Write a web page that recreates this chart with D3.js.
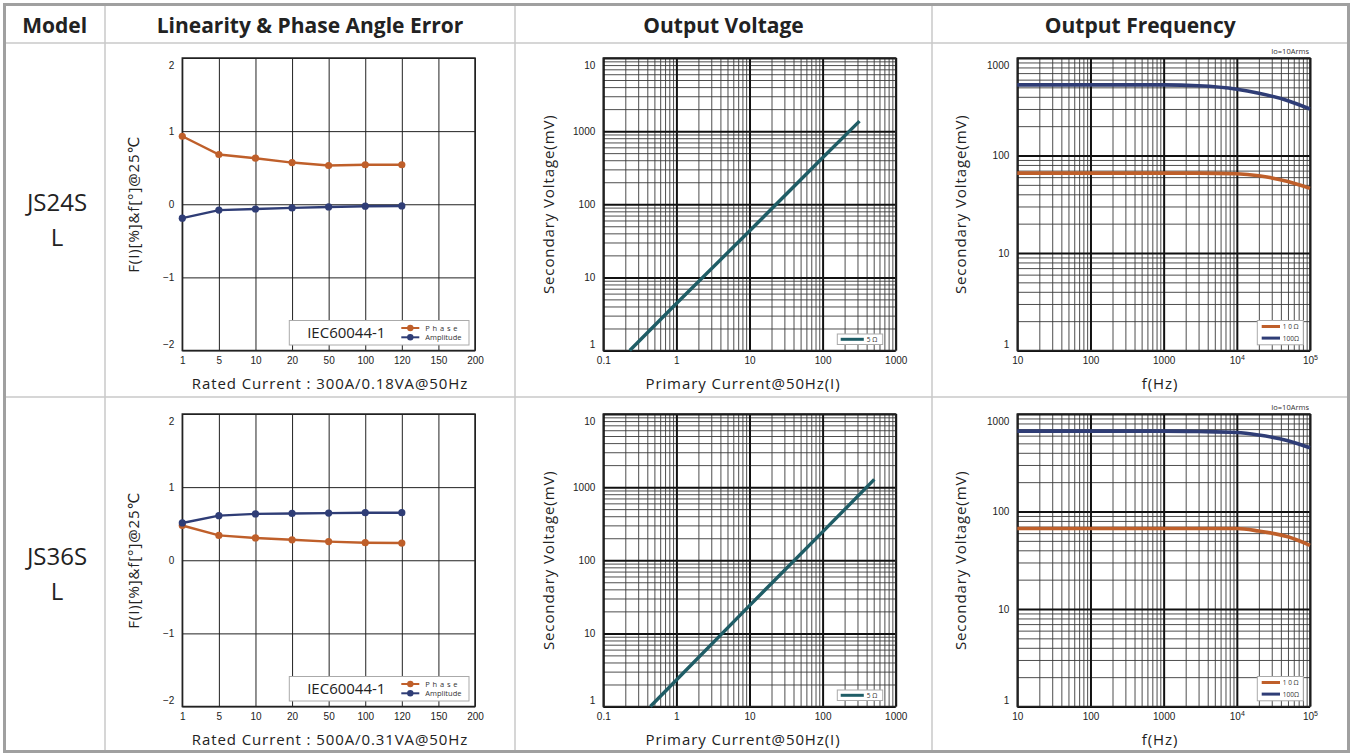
<!DOCTYPE html>
<html>
<head>
<meta charset="utf-8">
<title>CT characteristic table</title>
<script src="https://d3js.org/d3.v7.min.js"></script>
<style>
    body { margin:0; background:#fff; }
    svg { display:block; font-family:"Open Sans", "DejaVu Sans", sans-serif; }
    .grid path { display:none; }
    .labels path { display:none; }
    .labels text { font-size:10px; fill:#222; }
    .axis-title { font-size:15px; fill:#222; letter-spacing:0.9px; }
    .head { font-size:21px; font-weight:bold; fill:#222; }
    .model { font-size:24px; fill:#222; }
</style>
</head>
<body>
<svg id="chart" width="1354" height="754"></svg>
<script>

// ---- data ----
const headers = ["Model", "Linearity & Phase Angle Error", "Output Voltage", "Output Frequency"];
const models = [["JS24S", "L"], ["JS36S", "L"]];
const ratedTitles = ["Rated Current : 300A/0.18VA@50Hz", "Rated Current : 500A/0.31VA@50Hz"];

// linearity & phase angle error
const linCategories = ["1", "5", "10", "20", "50", "100", "120", "150", "200"];
const linTicks = [-2, -1, 0, 1, 2];
const phaseJS24 = [0.93, 0.68, 0.63, 0.57, 0.53, 0.54, 0.54];
const ampJS24 = [-0.19, -0.08, -0.065, -0.05, -0.037, -0.027, -0.023];
const phaseJS36 = [0.475, 0.34, 0.305, 0.28, 0.255, 0.24, 0.235];
const ampJS36 = [0.51, 0.61, 0.634, 0.64, 0.645, 0.65, 0.65];

// output voltage (5 ohm burden)
const currentJS24 = [0.23, 1, 10, 100, 320];
const voltJS24 = [1, 4.4, 43, 432, 1370];
const currentJS36 = [0.44, 1, 10, 100, 510];
const voltJS36 = [1, 2.3, 24, 244, 1275];
const voltXTicks = [0.1, 1, 10, 100, 1000];
const voltXLabels = ["0.1", "1", "10", "100", "1000"];
const voltYTicks = [1, 10, 100, 1000, 10000];
const voltYLabels = ["1", "10", "100", "1000", "10"];

// output frequency (Io = 10Arms)
const freqs = [10, 100, 1000, 3000, 10000, 20000, 50000, 100000];
const f10JS24 = [66, 66, 66, 66, 65, 62, 54, 46];
const f100JS24 = [530, 530, 530, 520, 479, 435, 365, 300];
const f10JS36 = [67, 67, 67, 67, 67, 63, 55, 45];
const f100JS36 = [668, 668, 668, 662, 647, 608, 531, 450];
const freqXTicks = [10, 100, 1000, 10000, 100000];
const freqXLabels = [["10"], ["100"], ["1000"], ["10", "4"], ["10", "5"]];
const freqYTicks = [1, 10, 100, 1000];

const ORANGE = "#bf5f2a", NAVY = "#2f3d76", TEAL = "#1f5d66";

// ---- layout ----
const svg = d3.select("#chart");
const colX = [4.5, 105, 515, 932, 1348.5];
const rowY = [4.5, 43, 397, 751.5];
const plotTops = [58, 414];
const plotH = 292.5;
const linX = [182.3, 475], voltX = [603.3, 895.7], freqX = [1017.3, 1310];

// table lines
const table = svg.append("g");
[rowY[1], rowY[2]].forEach(y => table.append("line")
    .attr("x1", colX[0]).attr("x2", colX[4]).attr("y1", y).attr("y2", y)
    .attr("stroke", "#c8c8c8").attr("stroke-width", 1.5));
[colX[1], colX[2], colX[3]].forEach(x => table.append("line")
    .attr("x1", x).attr("x2", x).attr("y1", rowY[0]).attr("y2", rowY[3])
    .attr("stroke", "#c8c8c8").attr("stroke-width", 1.5));
table.append("rect")
    .attr("x", colX[0]).attr("y", rowY[0])
    .attr("width", colX[4] - colX[0]).attr("height", rowY[3] - rowY[0])
    .attr("fill", "none").attr("stroke", "#a0a0a0").attr("stroke-width", 3);

headers.forEach((h, i) => {
    table.append("text").attr("class", "head")
        .attr("x", (colX[i] + colX[i + 1]) / 2).attr("y", 33)
        .attr("text-anchor", "middle").text(h);
});

models.forEach((m, r) => {
    const cy = (rowY[r + 1] + rowY[r + 2]) / 2;
    m.forEach((line, k) => {
        table.append("text").attr("class", "model")
            .attr("x", 57).attr("y", cy + 8 + (k - 0.5) * 35)
            .attr("text-anchor", "middle").text(line);
    });
});

function isDecade(v) {
    const l = Math.log10(v);
    return Math.abs(l - Math.round(l)) < 1e-9;
}

// shift the first / last y labels inward like the original
function nudgeEnds(sel) {
    const t = sel.selectAll(".tick text");
    const n = t.size();
    t.each(function(d, i) {
        if (i === 0) d3.select(this).attr("dy", "-0.35em");
        if (i === n - 1) d3.select(this).attr("dy", "1.0em");
    });
}

function frame(g, xr, top) {
    g.append("rect").attr("x", xr[0]).attr("y", top)
        .attr("width", xr[1] - xr[0]).attr("height", plotH)
        .attr("fill", "none").attr("stroke", "#222").attr("stroke-width", 1.5);
}

function xTitle(g, text, cx, bottom) {
    g.append("text").attr("class", "axis-title")
        .attr("x", cx).attr("y", bottom + 38)
        .attr("text-anchor", "middle").text(text);
}

function yTitle(g, text, x, cy) {
    g.append("text").attr("class", "axis-title")
        .attr("transform", `translate(${x},${cy}) rotate(-90)`)
        .attr("text-anchor", "middle").text(text);
}

// ---- linearity chart ----
function drawLinearity(row, phase, amp) {
    const top = plotTops[row], bottom = top + plotH;
    const g = svg.append("g");
    const x = d3.scalePoint().domain(linCategories).range(linX);
    const y = d3.scaleLinear().domain([-2, 2]).range([bottom, top]);
    const w = linX[1] - linX[0];

    g.append("g").attr("class", "grid").attr("transform", `translate(0,${bottom})`)
        .call(d3.axisBottom(x).tickSize(-plotH).tickFormat(""))
        .selectAll("line").attr("stroke", "#222").attr("stroke-width", 1);
    g.append("g").attr("class", "grid").attr("transform", `translate(${linX[0]},0)`)
        .call(d3.axisLeft(y).tickValues(linTicks).tickSize(-w).tickFormat(""))
        .selectAll("line").attr("stroke", "#222").attr("stroke-width", 1);
    frame(g, linX, top);

    g.append("g").attr("class", "labels").attr("transform", `translate(0,${bottom})`)
        .call(d3.axisBottom(x).tickSize(0).tickPadding(6))
        .selectAll("line").remove();
    const yl = g.append("g").attr("class", "labels").attr("transform", `translate(${linX[0]},0)`)
        .call(d3.axisLeft(y).tickValues(linTicks).tickSize(0).tickPadding(8)
            .tickFormat(d3.format("d")));
    nudgeEnds(yl);

    const series = [{ v: phase, c: ORANGE }, { v: amp, c: NAVY }];
    series.forEach(s => {
        const pts = s.v.map((v, i) => [linCategories[i], v]);
        g.append("path").datum(pts)
            .attr("d", d3.line().x(d => x(d[0])).y(d => y(d[1])))
            .attr("fill", "none").attr("stroke", s.c).attr("stroke-width", 2.4);
        g.selectAll(null).data(pts).join("circle")
            .attr("cx", d => x(d[0])).attr("cy", d => y(d[1]))
            .attr("r", 3.6).attr("fill", s.c);
    });

    // legend
    const lg = g.append("g").attr("transform", `translate(289.3,${bottom - 30})`);
    lg.append("rect").attr("width", 179.7).attr("height", 24.5)
        .attr("fill", "#fff").attr("stroke", "#aaa").attr("stroke-width", 1);
    lg.append("text").attr("x", 57).attr("y", 17.5).attr("text-anchor", "middle")
        .style("font-size", "15px").attr("fill", "#222").text("IEC60044-1");
    [["Phase", ORANGE, "2.8px"], ["Amplitude", NAVY, "0px"]].forEach((e, i) => {
        const ly = 7.5 + i * 9.3;
        lg.append("line").attr("x1", 112).attr("x2", 130).attr("y1", ly).attr("y2", ly)
            .attr("stroke", e[1]).attr("stroke-width", 2);
        lg.append("circle").attr("cx", 121).attr("cy", ly).attr("r", 3.2).attr("fill", e[1]);
        lg.append("text").attr("x", 136).attr("y", ly + 2.6)
            .style("font-size", "7.5px").style("letter-spacing", e[2])
            .attr("fill", "#333").text(e[0]);
    });

    xTitle(g, ratedTitles[row], 330, bottom);
    yTitle(g, "F(I)[%]&f[°]@25℃", 139, (top + bottom) / 2);
}

// ---- log-log grid helper ----
function logGrid(g, x, y, xr, top, bottom) {
    const w = xr[1] - xr[0];
    const xt = x.ticks(), yt = y.ticks();
    [false, true].forEach(major => {
        g.append("g").attr("class", "grid").attr("transform", `translate(0,${bottom})`)
            .call(d3.axisBottom(x).tickValues(xt.filter(v => isDecade(v) === major))
                .tickSize(-plotH).tickFormat(""))
            .selectAll("line").attr("stroke", major ? "#111" : "#3a3a3a")
            .attr("stroke-width", major ? 2 : 0.9);
        g.append("g").attr("class", "grid").attr("transform", `translate(${xr[0]},0)`)
            .call(d3.axisLeft(y).tickValues(yt.filter(v => isDecade(v) === major))
                .tickSize(-w).tickFormat(""))
            .selectAll("line").attr("stroke", major ? "#111" : "#3a3a3a")
            .attr("stroke-width", major ? 2 : 0.9);
    });
    frame(g, xr, top);
}

// ---- output voltage chart ----
function drawVoltage(row, current, volt) {
    const top = plotTops[row], bottom = top + plotH;
    const g = svg.append("g");
    const x = d3.scaleLog().domain([0.1, 1000]).range(voltX);
    const y = d3.scaleLog().domain([1, 10000]).range([bottom, top]);
    logGrid(g, x, y, voltX, top, bottom);

    g.append("g").attr("class", "labels").attr("transform", `translate(0,${bottom})`)
        .call(d3.axisBottom(x).tickValues(voltXTicks).tickSize(0).tickPadding(6)
            .tickFormat((d, i) => voltXLabels[i]));
    const yl = g.append("g").attr("class", "labels").attr("transform", `translate(${voltX[0]},0)`)
        .call(d3.axisLeft(y).tickValues(voltYTicks).tickSize(0).tickPadding(8)
            .tickFormat((d, i) => voltYLabels[i]));
    nudgeEnds(yl);

    const pts = current.map((c, i) => [c, volt[i]]);
    g.append("path").datum(pts)
        .attr("d", d3.line().x(d => x(d[0])).y(d => y(d[1])))
        .attr("fill", "none").attr("stroke", TEAL).attr("stroke-width", 3.4);

    const lg = g.append("g").attr("transform", `translate(837.3,${bottom - 16.5})`);
    lg.append("rect").attr("width", 45.4).attr("height", 10.5)
        .attr("fill", "#fff").attr("stroke", "#aaa").attr("stroke-width", 1);
    lg.append("line").attr("x1", 3.4).attr("x2", 26.5).attr("y1", 5.3).attr("y2", 5.3)
        .attr("stroke", TEAL).attr("stroke-width", 3);
    lg.append("text").attr("x", 29.5).attr("y", 7.8)
        .style("font-size", "6.5px").attr("fill", "#333").text("5 Ω");

    xTitle(g, "Primary Current@50Hz(I)", 743, bottom);
    yTitle(g, "Secondary Voltage(mV)", 554, (top + bottom) / 2);
}

// ---- output frequency chart ----
function drawFreq(row, f10, f100) {
    const top = plotTops[row], bottom = top + plotH;
    const g = svg.append("g");
    const x = d3.scaleLog().domain([10, 100000]).range(freqX);
    const y = d3.scaleLog().domain([1, 1000]).range([bottom, top]);
    logGrid(g, x, y, freqX, top, bottom);

    const xl = g.append("g").attr("class", "labels").attr("transform", `translate(0,${bottom})`)
        .call(d3.axisBottom(x).tickValues(freqXTicks).tickSize(0).tickPadding(6).tickFormat(""));
    xl.selectAll(".tick text").each(function(d, i) {
        const t = d3.select(this);
        const parts = freqXLabels[i];
        t.append("tspan").text(parts[0]);
        if (parts[1]) t.append("tspan").attr("dy", "-0.45em").style("font-size", "7px").text(parts[1]);
    });
    const yl = g.append("g").attr("class", "labels").attr("transform", `translate(${freqX[0]},0)`)
        .call(d3.axisLeft(y).tickValues(freqYTicks).tickSize(0).tickPadding(8)
            .tickFormat(d3.format("d")));
    nudgeEnds(yl);

    const line = d3.line().x(d => x(d[0])).y(d => y(d[1])).curve(d3.curveMonotoneX);
    [{ v: f10, c: ORANGE }, { v: f100, c: NAVY }].forEach(s => {
        g.append("path").datum(freqs.map((f, i) => [f, s.v[i]]))
            .attr("d", line).attr("fill", "none")
            .attr("stroke", s.c).attr("stroke-width", 3.6);
    });

    g.append("text").attr("x", freqX[1] - 1).attr("y", top - 4.5)
        .attr("text-anchor", "end").style("font-size", "7.5px").attr("fill", "#333")
        .text("Io=10Arms");

    const lg = g.append("g").attr("transform", `translate(1257.3,${bottom - 30})`);
    lg.append("rect").attr("width", 46).attr("height", 24.3)
        .attr("fill", "#fff").attr("stroke", "#aaa").attr("stroke-width", 1);
    [["1 0 Ω", ORANGE], ["100Ω", NAVY]].forEach((e, i) => {
        const ly = 6 + i * 11.6;
        lg.append("line").attr("x1", 4.4).attr("x2", 22.7).attr("y1", ly).attr("y2", ly)
            .attr("stroke", e[1]).attr("stroke-width", 3);
        lg.append("text").attr("x", 25.5).attr("y", ly + 2.4)
            .style("font-size", "6.5px").attr("fill", "#333").text(e[0]);
    });

    xTitle(g, "f(Hz)", 1160, bottom);
    yTitle(g, "Secondary Voltage(mV)", 966, (top + bottom) / 2);
}

drawLinearity(0, phaseJS24, ampJS24);
drawLinearity(1, phaseJS36, ampJS36);
drawVoltage(0, currentJS24, voltJS24);
drawVoltage(1, currentJS36, voltJS36);
drawFreq(0, f10JS24, f100JS24);
drawFreq(1, f10JS36, f100JS36);

</script>
</body>
</html>
